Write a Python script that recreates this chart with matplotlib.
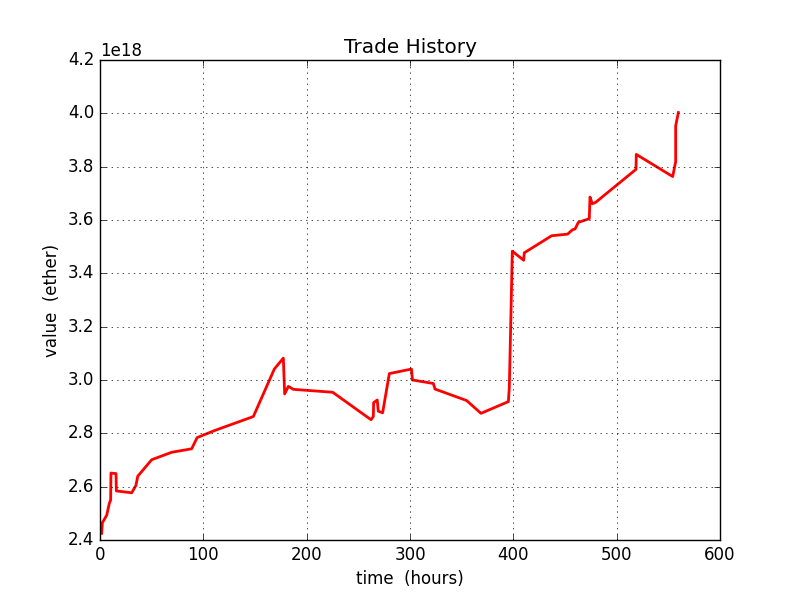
import matplotlib
matplotlib.use('Agg')
import matplotlib.pyplot as plt

plt.style.use('classic')

# hours since start
hours = [1.6, 2.3, 6.5, 9.0, 10.3, 10.6, 15.5, 15.8, 30.7, 34.8, 36.5, 50.0,
         69.4, 88.7, 94.0, 111.3, 148.4, 168.7, 177.4, 178.7, 182.3, 187.1,
         225.2, 262.3, 264.5, 264.8, 268.3, 269.3, 273.5, 280.0, 301.4, 302.4,
         322.6, 324.2, 354.8, 368.7, 395.2, 396.1, 397.4, 399.0, 410.0, 410.6,
         437.1, 452.5, 457.4, 459.7, 462.9, 473.5, 474.2, 476.4, 479.6, 518.7,
         519.0, 554.2, 557.1, 557.1, 559.7]

# portfolio value (x 1e18)
value = [2.425, 2.465, 2.493, 2.537, 2.550, 2.651, 2.649, 2.584, 2.577, 2.605,
         2.639, 2.701, 2.729, 2.742, 2.784, 2.811, 2.863, 3.041, 3.082, 2.948,
         2.976, 2.965, 2.954, 2.851, 2.863, 2.915, 2.925, 2.883, 2.877, 3.024,
         3.041, 3.000, 2.987, 2.966, 2.923, 2.875, 2.919, 2.972, 3.196, 3.483,
         3.449, 3.477, 3.541, 3.547, 3.564, 3.566, 3.591, 3.605, 3.686, 3.661,
         3.666, 3.790, 3.846, 3.763, 3.819, 3.953, 4.003]

value_wei = [v * 1e18 for v in value]

fig = plt.figure(figsize=(8, 6), dpi=100, facecolor='white')
ax = fig.add_subplot(111)
ax.plot(hours, value_wei, 'r-', linewidth=2)
ax.set_xlim(0, 600)
ax.set_ylim(2.4e18, 4.2e18)
ax.grid(True)
ax.set_title('Trade History')
ax.set_xlabel('time  (hours)')
ax.set_ylabel('value  (ether)')

fig.savefig('out.png', dpi=100, facecolor='white')
